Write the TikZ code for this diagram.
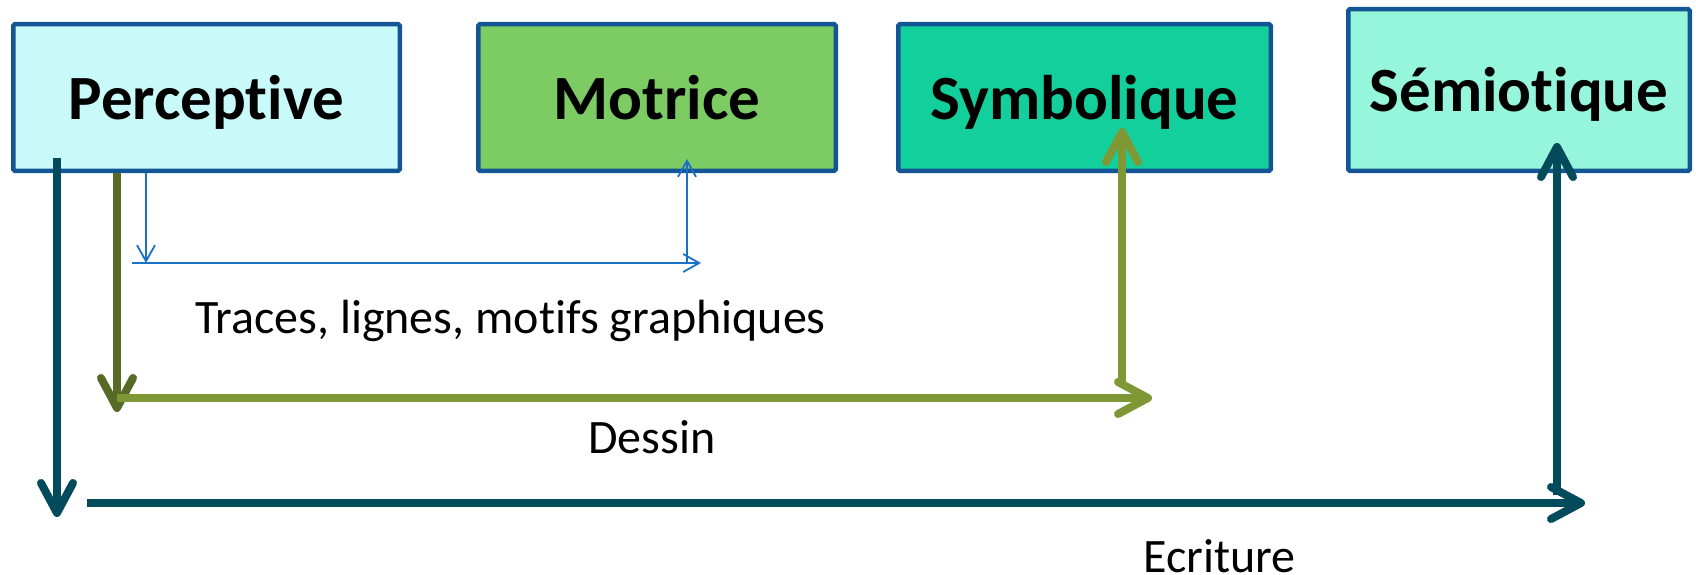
\documentclass[tikz,border=0pt]{standalone}
\usepackage{fontspec}
\setmainfont{Carlito}[Ligatures={NoCommon}]
\usetikzlibrary{arrows.meta}
\definecolor{bord}{RGB}{20,85,150}
\definecolor{fperc}{RGB}{200,250,250}
\definecolor{fmot}{RGB}{125,203,99}
\definecolor{fsym}{RGB}{18,207,155}
\definecolor{fsem}{RGB}{149,246,219}
\definecolor{teal}{RGB}{3,75,91}
\definecolor{dolive}{RGB}{87,106,40}
\definecolor{lolive}{RGB}{127,152,53}
\definecolor{lblue}{RGB}{26,114,200}
\begin{document}
\begin{tikzpicture}[x=1pt,y=-1pt,
  box/.style={draw=bord, line width=4.5pt, rounded corners=1.5pt, inner sep=0pt,
    font=\fontsize{63}{70}\selectfont\bfseries, text height=44pt, text depth=0pt, anchor=center},
  lbl/.style={font=\fontsize{48}{56}\selectfont, anchor=base west, inner sep=0pt},
  bigarrow/.style={line width=8pt, -{Straight Barb[length=30pt,width=32pt,round]}},
  thinarrow/.style={line width=1.8pt, -{Straight Barb[length=16pt,width=18pt]}},
]
\useasboundingbox (0,0) rectangle (1696,575);
\node[box, fill=fperc, minimum width=386.5pt, minimum height=146.5pt] (perc) at (206.5,97.5) {Percept\kern0pt ive};
\node[box, fill=fmot, minimum width=357.5pt, minimum height=146.5pt] (mot) at (657,97.5) {Motrice};
\node[box, fill=fsym, minimum width=372.5pt, minimum height=146.5pt] (sym) at (1084.5,97.5) {Symbolique};
\node[box, fill=fsem, minimum width=341.5pt, minimum height=161.5pt] (sem) at (1519,90) {Sémiot\kern0pt ique};

\node[lbl] (ltr) at (195,333) {Traces, lignes, mot\kern0pt ifs graphiques};
\node[lbl] (lde) at (588,453) {Dessin};
\node[lbl] (lec) at (1143,572) {Ecriture};

% coordinates
\coordinate (t0) at (57,158);
\coordinate (t1) at (57,517);
\coordinate (t2) at (87,503);
\coordinate (t3) at (1585,503);
\coordinate (t4) at (1557,495);
\coordinate (t5) at (1557,143);
\coordinate (o0) at (117,173);
\coordinate (o1) at (117,412);
\coordinate (o2) at (117,398);
\coordinate (o3) at (1152,398);
\coordinate (o4) at (1122,385);
\coordinate (o5) at (1122,128);
\coordinate (b0) at (146,173);
\coordinate (b1) at (146,263);
\coordinate (b2) at (132,263);
\coordinate (b3) at (701,263);
\coordinate (b4) at (687,263);
\coordinate (b5) at (687,159);

% blue
\draw[thinarrow, lblue] (b0) -- (b1);
\draw[thinarrow, lblue] (b2) -- (b3);
\draw[thinarrow, lblue] (b4) -- (b5);
% olive
\draw[bigarrow, dolive] (o0) -- (o1);
\draw[bigarrow, lolive] (o2) -- (o3);
\draw[bigarrow, lolive] (o4) -- (o5);
% teal
\draw[bigarrow, teal] (t0) -- (t1);
\draw[bigarrow, teal] (t2) -- (t3);
\draw[bigarrow, teal] (t4) -- (t5);
\end{tikzpicture}
\end{document}
